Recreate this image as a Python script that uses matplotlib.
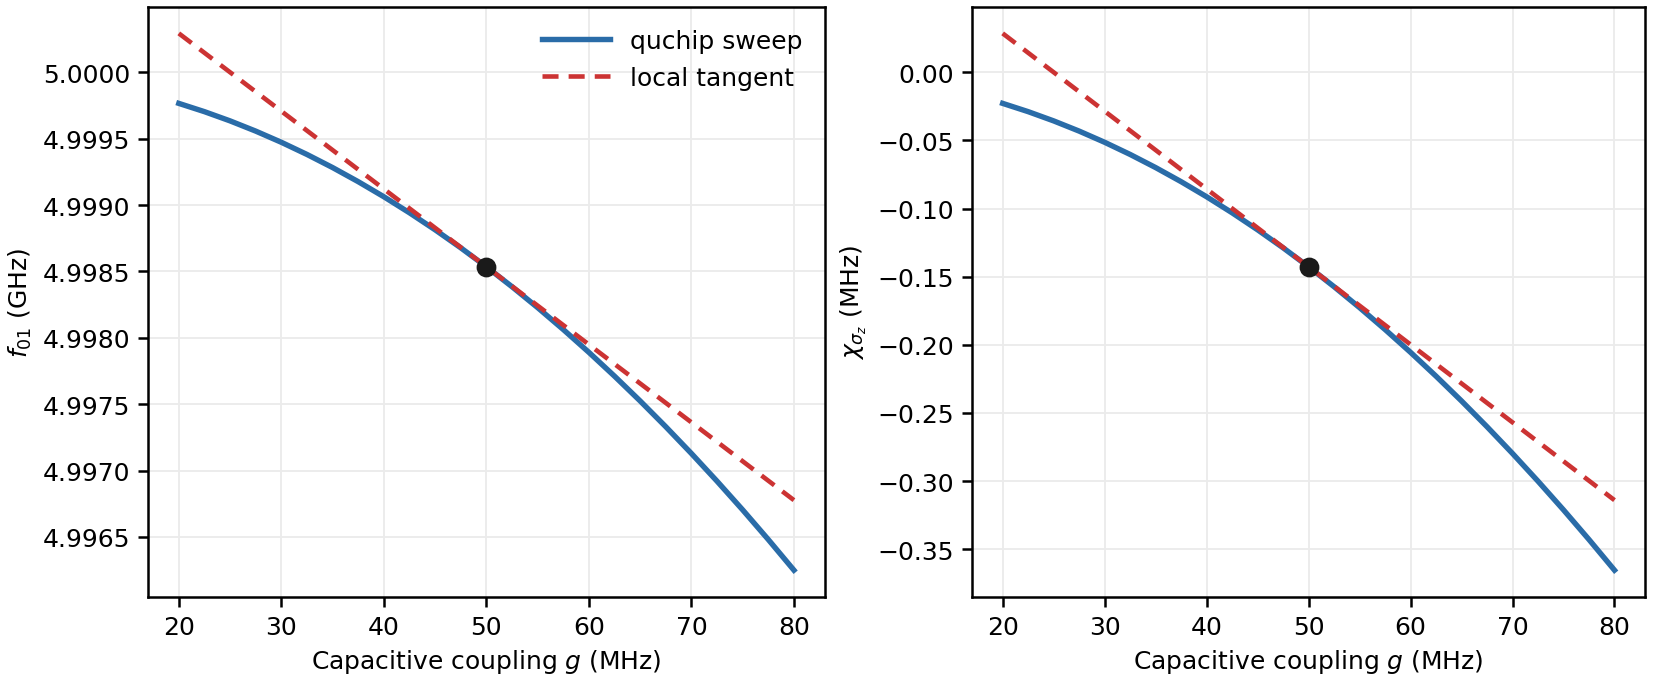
import matplotlib
matplotlib.use("Agg")
import matplotlib.pyplot as plt

# Coupling sweep (MHz)
g_values = [20, 22.5, 25, 27.5, 30, 32.5, 35, 37.5, 40, 42.5, 45, 47.5, 50,
            52.5, 55, 57.5, 60, 62.5, 65, 67.5, 70, 72.5, 75, 77.5, 80]

# Qubit frequency f01 (GHz) from sweep
f01_values = [4.9997656, 4.9997033, 4.9996338, 4.9995568, 4.9994726,
              4.9993810, 4.9992822, 4.9991759, 4.9990624, 4.9989415,
              4.9988134, 4.9986778, 4.9985350, 4.9983848, 4.9982274,
              4.9980625, 4.9978904, 4.9977109, 4.9975242, 4.9973300,
              4.9971286, 4.9969198, 4.9967038, 4.9964803, 4.9962496]

# Dispersive shift chi (MHz) from sweep
chi_values = [-0.022840, -0.028907, -0.035688, -0.043182, -0.051390,
              -0.060312, -0.069948, -0.080297, -0.091360, -0.103137,
              -0.115628, -0.128832, -0.142750, -0.157382, -0.172728,
              -0.188787, -0.205560, -0.223047, -0.241248, -0.260162,
              -0.279790, -0.300132, -0.321188, -0.342957, -0.365440]

# Local tangents at operating point
tangent_g = [20, 80]
f01_tangent = [5.000293, 4.996777]
chi_tangent = [0.02855, -0.31405]

op_g = 50
op_f01 = 4.998535
op_chi = -0.14275

BLUE = "#2a6ca8"
RED = "#cc3333"

plt.rcParams["font.family"] = ["DejaVu Sans"]
plt.rcParams["font.size"] = 12

fig = plt.figure(figsize=(11.04, 4.56), dpi=150)
ax1 = fig.add_axes([0.0894, 0.1257, 0.4086, 0.8633])
ax2 = fig.add_axes([0.587, 0.1257, 0.4064, 0.8633])

for ax, y, yt, yo, ylabel in [
    (ax1, f01_values, f01_tangent, op_f01, r"$f_{01}$ (GHz)"),
    (ax2, chi_values, chi_tangent, op_chi, r"$\chi_{\sigma_z}$ (MHz)"),
]:
    ax.plot(g_values, y, color=BLUE, lw=2.6, label="quchip sweep", zorder=2,
            solid_joinstyle="round")
    ax.plot(tangent_g, yt, color=RED, lw=2.2, ls=(0, (3.5, 2.2)),
            label="local tangent", zorder=3)
    ax.plot([op_g], [yo], "o", color="#1a1a1a", ms=8.5, zorder=4)
    ax.grid(True, color="#ebebeb", lw=0.9)
    ax.set_axisbelow(True)
    ax.set_xlabel(r"Capacitive coupling $g$ (MHz)")
    ax.set_ylabel(ylabel)
    ax.set_xticks([20, 30, 40, 50, 60, 70, 80])
    for s in ax.spines.values():
        s.set_linewidth(1.2)
    ax.tick_params(width=1.2, length=5)

ax1.yaxis.set_major_formatter(matplotlib.ticker.FormatStrFormatter("%.4f"))
ax2.yaxis.set_major_formatter(matplotlib.ticker.FuncFormatter(
    lambda v, p: ("%.2f" % v).replace("-", "\u2212")))
ax1.legend(loc="upper right", frameon=False, handlelength=2.7)

fig.savefig("out.png", dpi=150)
